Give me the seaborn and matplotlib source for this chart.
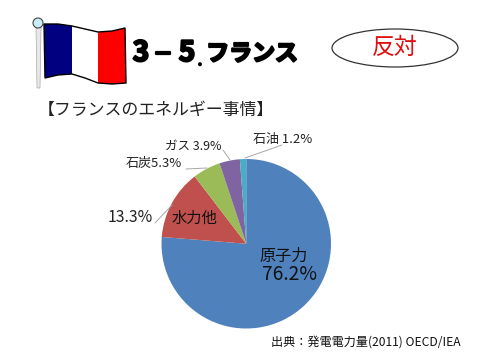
#フランスのエネルギー事情 円グラフ

import seaborn as sns
import matplotlib.pyplot as plt
import matplotlib.patheffects as pe
from matplotlib.patches import Ellipse, Circle, Polygon

categories = ["原子力", "水力他", "石炭", "ガス", "石油"]
shares = [76.2, 13.3, 5.3, 3.9, 1.2]
slice_colors = ["#4F81BD", "#C0504D", "#9BBB59", "#8064A2", "#4BACC6"]

title_parts = ["3", "－", "5", ".", "フランス"]
stance = "反対"
subtitle = "【フランスのエネルギー事情】"
source = "出典：発電電力量(2011) OECD/IEA"

sns.set_theme(style="white")
plt.rcParams['font.family'] = ['Noto Sans CJK JP', 'DejaVu Sans']

fig = plt.figure(figsize=(4.8, 3.6), dpi=100)

#円グラフ
ax = fig.add_axes([161.5/480, 31.5/360, 169.5/480, 169.5/360])
ax.pie(shares, colors=sns.color_palette(slice_colors), startangle=90, counterclock=False,
       radius=1, wedgeprops=dict(linewidth=0))
ax.set_xlim(-1, 1)
ax.set_ylim(-1, 1)

#文字と飾りはピクセル座標で
ov = fig.add_axes([0, 0, 1, 1], zorder=5)
ov.set_xlim(0, 480)
ov.set_ylim(360, 0)
ov.axis("off")
ov.patch.set_alpha(0)

#旗
ov.add_patch(Polygon([(36, 27), (41, 27), (40, 88), (37, 88)], fc="#e8e8e8", ec="#aaaaaa", lw=0.5))
ov.add_patch(Circle((38, 23), 5, fc="#c8ecf8", ec="#444444", lw=0.8))
top = [(44, 24), (58, 24), (72, 26), (85, 29), (98, 32), (112, 31), (125, 28)]
bottom = [(126, 83), (112, 84), (98, 83), (85, 78), (72, 74), (58, 75), (45, 78)]
ov.add_patch(Polygon(top[:3] + bottom[-3:], fc="#000080", lw=0))
ov.add_patch(Polygon(top[2:5] + bottom[2:5], fc="white", lw=0))
ov.add_patch(Polygon(top[4:] + bottom[:3], fc="#ff0000", lw=0))
ov.add_patch(Polygon(top + bottom, fc="none", ec="black", lw=1.0))

#タイトルは文字ごとに置く
title_x = [141, 163, 187, 200, 252]
title_size = [20, 15, 20, 7, 16.5]
title_y = [53, 54, 53, 62, 54]
for s, x, y, fs in zip(title_parts, title_x, title_y, title_size):
    ov.text(x, y, s, fontsize=fs, fontweight="bold", color="black", va="center", ha="center",
            path_effects=[pe.withStroke(linewidth=1.6, foreground="black")])

ov.add_patch(Ellipse((395, 48), 126, 38, fc="white", ec="#333333", lw=0.9))
ov.text(395, 47, stance, fontsize=16.5, color="#e01010", ha="center", va="center")

ov.text(38, 110, subtitle, fontsize=12.2, color="#222222", ha="left", va="center")

#ラベル
ov.text(253, 140, f"{categories[4]} {shares[4]}%", fontsize=9.4, color="#222222", va="center")
ov.text(165, 146, f"{categories[3]} {shares[3]}%", fontsize=9, color="#222222", va="center")
ov.text(126, 164, f"{categories[2]}{shares[2]}%", fontsize=9.4, color="#222222", va="center")
ov.text(108, 218, f"{shares[1]}%", fontsize=11.4, color="#222222", va="center")
ov.text(172, 218, categories[1], fontsize=11, color="#111111", va="center")
ov.text(259, 256, categories[0], fontsize=11.6, color="#111111", va="center")
ov.text(262, 274, f"{shares[0]}%", fontsize=13.8, color="#111111", va="center")
ov.text(271, 342, source, fontsize=8.7, color="#111111", va="center")

#引き出し線
leaders = [((282, 145), (245, 158)), ((223, 150), (230, 160)),
           ((186, 169), (207, 168)), ((155, 223), (172, 205))]
for a, b in leaders:
    ov.plot([a[0], b[0]], [a[1], b[1]], color="#a6a6a6", lw=0.7)

plt.savefig("out.png", dpi=100)
